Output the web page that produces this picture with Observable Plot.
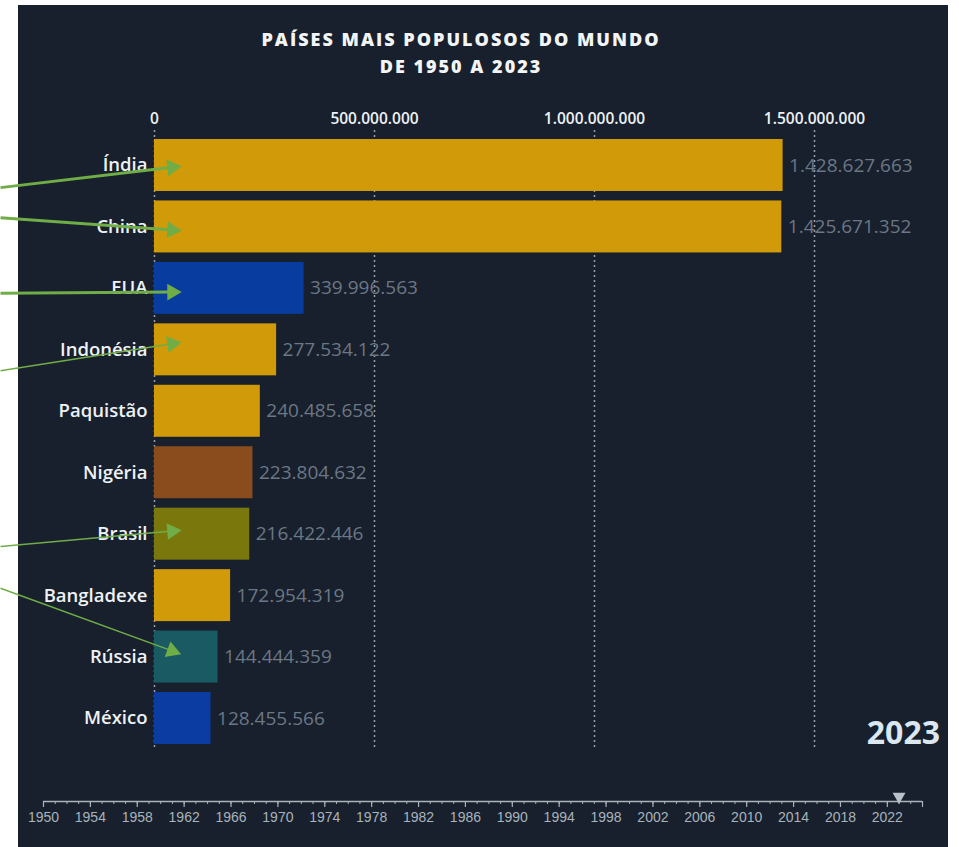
<!DOCTYPE html>
<html>
<head>
<meta charset="utf-8">
<script src="https://cdn.jsdelivr.net/npm/d3@7"></script>
<script src="https://cdn.jsdelivr.net/npm/@observablehq/plot@0.6"></script>
<style>
  html, body { margin: 0; padding: 0; background: #ffffff; }
  #wrap { position: relative; width: 959px; height: 847px; overflow: hidden; }
  #panel { position: absolute; left: 18px; top: 5px; width: 930px; height: 842px; background: #17202c; }
  #title { position: absolute; left: 0; top: 26px; width: 922px; text-align: center;
    font-family: "Open Sans", sans-serif; font-weight: 800; font-size: 18px; letter-spacing: 2px;
    line-height: 27px; color: #f3f4f5; }
  #year { position: absolute; right: 19px; top: 712px; font-family: "Open Sans", sans-serif;
    font-weight: 700; font-size: 32px; line-height: 40px; color: #dbe7f1; }
  #main { position: absolute; left: 0; top: 0; }
  #timeline { position: absolute; left: 0; top: 770px; }
  svg [aria-label="x-axis tick label"] text { font-weight: 600; }
</style>
</head>
<body>
<div id="wrap">
  <div id="panel"></div>
  <div id="title"></div>
  <div id="main"></div>
  <div id="timeline"></div>
  <div id="year"></div>
</div>
<script>
const titleLines = ["PAÍSES MAIS POPULOSOS DO MUNDO", "DE 1950 A 2023"];
const currentYear = 2023;
const countries = ["Índia", "China", "EUA", "Indonésia", "Paquistão", "Nigéria", "Brasil", "Bangladexe", "Rússia", "México"];
const populations = [1428627663, 1425671352, 339996563, 277534122, 240485658, 223804632, 216422446, 172954319, 144444359, 128455566];
const barColors = ["#d09a08", "#d09a08", "#083c9e", "#d09a08", "#d09a08", "#8a4c1c", "#7a770c", "#d09a08", "#1a5a63", "#0a3ca2"];
const xTicks = [0, 500000000, 1000000000, 1500000000];
const majorYears = d3.range(1950, 2023, 4);
const allYears = d3.range(1950, 2026, 1);

// annotation arrows (green) pointing at some bars
const arrowTargets = ["Índia", "China", "EUA", "Indonésia", "Brasil", "Rússia"];
const arrowStartRow = [0.36, 0.85, 2.08, 3.34, 6.2, 6.88];
const arrowEndRow = [0.03, 1.05, 2.06, 2.9, 5.95, 7.9];
const arrowWidths = [3, 3, 3, 1.5, 1.5, 1.5];
const arrowStartValue = -350000000;
const arrowEndValue = 40000000;

document.getElementById("title").innerHTML = titleLines.join("<br>");
document.getElementById("year").textContent = String(currentYear);

const ptBR = d3.formatLocale({decimal: ",", thousands: ".", grouping: [3], currency: ["", ""]});
const fmt = ptBR.format(",d");

const data = countries.map((c, i) => ({country: c, value: populations[i], color: barColors[i], rank: i}));
const arrows = arrowTargets.map((c, i) => ({
  x1: arrowStartValue, y1: arrowStartRow[i], x2: arrowEndValue, y2: arrowEndRow[i], w: arrowWidths[i]
}));

const W = 959, H = 770;
const xRange = [154, 814], yRange = [165, 718];
const xs = d3.scaleLinear().domain([0, 1500000000]).range(xRange);
const ys = d3.scaleLinear().domain([0, 9]).range(yRange);
arrows.forEach(a => {
  const dx = xs(a.x2) - xs(a.x1), dy = ys(a.y2) - ys(a.y1);
  a.angle = Math.atan2(dy, dx) * 180 / Math.PI + 90;
});

const half = 0.423;
const main = Plot.plot({
  width: W, height: H,
  marginTop: 132, marginLeft: 154, marginRight: W - 814, marginBottom: H - 750,
  style: {background: "transparent", color: "#eef2f6", fontFamily: "Open Sans, sans-serif", fontSize: "15.5px"},
  x: {domain: [0, 1500000000], range: xRange, axis: "top", ticks: xTicks, tickFormat: fmt, tickSize: 0, tickPadding: 9, label: null},
  y: {domain: [0, 9], range: yRange, axis: null},
  color: {type: "identity"},
  marks: [
    Plot.ruleX(xTicks, {y1: -0.57, y2: 9.52, stroke: "#c5ccd4", strokeOpacity: 0.75, strokeWidth: 1.5, strokeDasharray: "2,3"}),
    Plot.rect(data, {x1: d => 0, x2: "value", y1: d => d.rank - half, y2: d => d.rank + half, fill: "color"}),
    Plot.text(data, {x: d => 0, y: "rank", text: "country", textAnchor: "end", dx: -7, fill: "#eef2f6", fontSize: 18.5, fontWeight: 600}),
    Plot.text(data, {x: "value", y: "rank", text: d => fmt(d.value), textAnchor: "start", dx: 6, fill: "#6c7785", fontSize: 19}),
    Plot.link(arrows, {x1: "x1", y1: "y1", x2: "x2", y2: "y2", stroke: "#70ad47", strokeWidth: "w"}),
    Plot.dot(arrows, {x: "x2", y: "y2", symbol: "triangle", r: 6.2, fill: "#70ad47", stroke: "none", rotate: "angle"})
  ]
});
document.getElementById("main").appendChild(main);

const timeline = Plot.plot({
  width: W, height: 77,
  marginLeft: 43, marginRight: W - 922, marginTop: 0, marginBottom: 0,
  style: {background: "transparent", color: "#a9b3bd", fontFamily: "Liberation Sans, Arial, sans-serif", fontSize: "14px"},
  x: {domain: [1950, 2025], range: [43, 922], axis: null},
  y: {domain: [0, 1], range: [31, 41], axis: null},
  marks: [
    Plot.ruleY([0], {x1: d => 1950, x2: d => 2025, stroke: "#aab3bc", strokeWidth: 1.5}),
    Plot.ruleX(allYears, {y1: 0, y2: 0.3, stroke: "#aab3bc", strokeWidth: 1}),
    Plot.ruleX(majorYears.concat([2025]), {y1: 0, y2: 0.6, stroke: "#aab3bc", strokeWidth: 1.2}),
    Plot.text(majorYears, {x: d => d, y: d => 1.65, text: d => String(d), fill: "#a9b3bd", fontSize: 14}),
    Plot.dot([currentYear], {x: d => d, y: d => -0.5, symbol: "triangle", r: 4.8, fill: "#b9c1c9", stroke: "none", rotate: 180})
  ]
});
document.getElementById("timeline").appendChild(timeline);
</script>
</body>
</html>
